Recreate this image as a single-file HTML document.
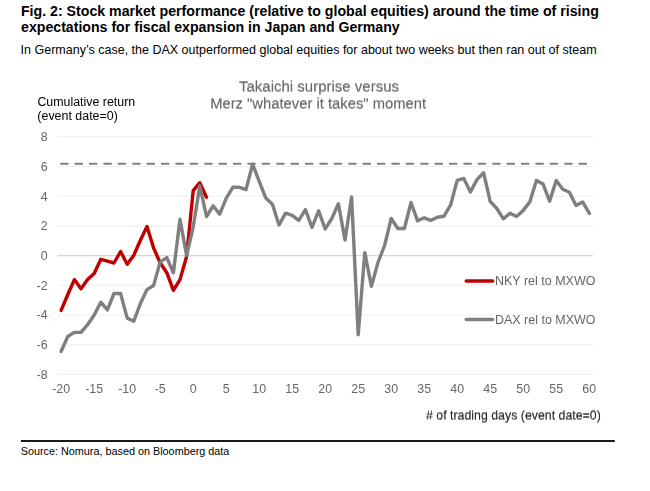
<!DOCTYPE html>
<html><head><meta charset="utf-8"><style>
html,body{margin:0;padding:0;background:#fff;}
body{width:650px;height:491px;overflow:hidden;position:relative;font-family:"Liberation Sans",sans-serif;}
svg{position:absolute;left:0;top:0;}
#chart{will-change:transform;}
text{font-family:"Liberation Sans",sans-serif;}
</style></head><body>
<svg id="outer" width="650" height="491" viewBox="0 0 650 491">
<rect id="bg" width="650" height="491" fill="#fff"/>
<text id="t1" x="20.95" y="16.0" font-size="13.9" font-weight="bold" fill="#000" textLength="577.88" lengthAdjust="spacingAndGlyphs">Fig. 2: Stock market performance (relative to global equities) around the time of rising</text>
<text id="t2" x="21.05" y="32.1" font-size="13.9" font-weight="bold" fill="#000" textLength="378.69" lengthAdjust="spacingAndGlyphs">expectations for fiscal expansion in Japan and Germany</text>
<text id="t3" x="20.64" y="53.7" font-size="12.4" font-weight="normal" fill="#000" textLength="575.95" lengthAdjust="spacingAndGlyphs">In Germany’s case, the DAX outperformed global equities for about two weeks but then ran out of steam</text>
<text id="s1" x="20.68" y="455.2" font-size="11" font-weight="normal" fill="#000" textLength="208.70" lengthAdjust="spacingAndGlyphs">Source: Nomura, based on Bloomberg data</text>

<rect x="20.9" y="440.1" width="593.9" height="1.8" fill="#000"/>
</svg>
<svg id="chart" width="650" height="364" viewBox="0 70 650 364" style="top:70px">
<rect id="bg2" x="0" y="70" width="650" height="364" fill="#fff"/>
<line x1="57.5" x2="593.0" y1="136.8" y2="136.8" stroke="#efefef" stroke-width="1.1"/>
<line x1="57.5" x2="593.0" y1="166.5" y2="166.5" stroke="#efefef" stroke-width="1.1"/>
<line x1="57.5" x2="593.0" y1="196.2" y2="196.2" stroke="#efefef" stroke-width="1.1"/>
<line x1="57.5" x2="593.0" y1="225.9" y2="225.9" stroke="#efefef" stroke-width="1.1"/>
<line x1="57.5" x2="593.0" y1="255.6" y2="255.6" stroke="#d6d6d6" stroke-width="1.1"/>
<line x1="57.5" x2="593.0" y1="285.3" y2="285.3" stroke="#efefef" stroke-width="1.1"/>
<line x1="57.5" x2="593.0" y1="315.0" y2="315.0" stroke="#efefef" stroke-width="1.1"/>
<line x1="57.5" x2="593.0" y1="344.7" y2="344.7" stroke="#efefef" stroke-width="1.1"/>
<line x1="57.5" x2="593.0" y1="374.4" y2="374.4" stroke="#efefef" stroke-width="1.1"/>

<line x1="61.1" x2="589.2" y1="163.75" y2="163.75" stroke="#7f7f7f" stroke-width="2.1" stroke-dasharray="6.6 7.8" stroke-linecap="round"/>
<polyline fill="none" stroke="#c00000" stroke-width="3.4" stroke-linejoin="round" stroke-linecap="round" points="61.1,310.4 67.8,294.5 74.4,279.6 81.0,288.8 87.6,279.6 94.2,273.5 100.8,259.3 107.4,261.2 114.0,263.0 120.6,251.5 127.2,264.2 133.8,255.3 140.4,240.2 147.0,226.6 153.6,248.1 160.2,262.7 166.8,272.7 173.4,290.4 180.0,279.6 186.6,256.5 193.2,190.7 199.8,182.7 206.5,197.3"/>
<polyline fill="none" stroke="#7f7f7f" stroke-width="3.4" stroke-linejoin="round" stroke-linecap="round" points="61.1,351.5 67.8,336.5 74.4,332.4 81.0,332.4 87.6,324.7 94.2,315.0 100.8,302.2 107.4,309.9 114.0,293.5 120.6,293.5 127.2,318.1 133.8,321.2 140.4,303.5 147.0,289.6 153.6,285.5 160.2,261.9 166.8,257.6 173.4,272.7 180.0,219.3 186.6,255.5 193.2,227.0 199.8,185.8 206.5,216.5 213.1,205.8 219.7,214.2 226.3,198.1 232.8,187.3 239.4,187.3 246.0,189.6 252.6,164.2 259.2,181.3 265.8,198.1 272.4,204.2 279.0,225.0 285.6,213.2 292.2,215.3 298.8,220.4 305.4,209.6 312.0,227.5 318.6,210.8 325.2,228.9 331.8,218.5 338.4,203.8 345.0,240.0 351.6,196.9 358.2,334.7 364.8,252.6 371.4,286.4 378.0,262.4 384.6,245.5 391.2,218.5 397.8,228.5 404.4,228.5 411.0,202.5 417.6,220.8 424.2,217.8 430.8,220.4 437.4,217.3 444.0,216.2 450.6,205.0 457.2,180.4 463.8,178.4 470.4,191.9 477.0,179.6 483.6,172.7 490.2,201.4 496.8,208.5 503.4,218.8 510.0,213.2 516.6,216.5 523.2,210.4 529.8,201.9 536.4,180.4 543.0,183.9 549.6,201.2 556.2,180.4 562.8,189.2 569.4,192.2 576.0,205.5 582.6,201.9 589.4,213.5"/>
<g font-size="12.4" fill="#666666">
<text x="47.6" y="141.1" text-anchor="end">8</text>
<text x="47.6" y="170.8" text-anchor="end">6</text>
<text x="47.6" y="200.5" text-anchor="end">4</text>
<text x="47.6" y="230.2" text-anchor="end">2</text>
<text x="47.6" y="259.9" text-anchor="end">0</text>
<text x="47.6" y="289.6" text-anchor="end">-2</text>
<text x="47.6" y="319.3" text-anchor="end">-4</text>
<text x="47.6" y="349.0" text-anchor="end">-6</text>
<text x="47.6" y="378.7" text-anchor="end">-8</text>

<text x="61.2" y="393.2" text-anchor="middle">-20</text>
<text x="94.2" y="393.2" text-anchor="middle">-15</text>
<text x="127.2" y="393.2" text-anchor="middle">-10</text>
<text x="160.2" y="393.2" text-anchor="middle">-5</text>
<text x="193.2" y="393.2" text-anchor="middle">0</text>
<text x="226.2" y="393.2" text-anchor="middle">5</text>
<text x="259.2" y="393.2" text-anchor="middle">10</text>
<text x="292.2" y="393.2" text-anchor="middle">15</text>
<text x="325.2" y="393.2" text-anchor="middle">20</text>
<text x="358.2" y="393.2" text-anchor="middle">25</text>
<text x="391.2" y="393.2" text-anchor="middle">30</text>
<text x="424.2" y="393.2" text-anchor="middle">35</text>
<text x="457.2" y="393.2" text-anchor="middle">40</text>
<text x="490.2" y="393.2" text-anchor="middle">45</text>
<text x="523.2" y="393.2" text-anchor="middle">50</text>
<text x="556.2" y="393.2" text-anchor="middle">55</text>
<text x="589.2" y="393.2" text-anchor="middle">60</text>

</g>
<line x1="466.2" x2="492.7" y1="281" y2="281" stroke="#c00000" stroke-width="3.4" stroke-linecap="round"/>
<line x1="466.2" x2="492.7" y1="319.5" y2="319.5" stroke="#7f7f7f" stroke-width="3.4" stroke-linecap="round"/>
<g opacity="0.6"><text id="c1" x="238.96" y="91.0" font-size="14.0" font-weight="normal" fill="#4d4d4d" textLength="160.03" lengthAdjust="spacingAndGlyphs">Takaichi surprise versus</text>
</g><g opacity="0.6"><text id="c1b" x="238.96" y="92.0" font-size="14.0" font-weight="normal" fill="#4d4d4d" textLength="160.03" lengthAdjust="spacingAndGlyphs">Takaichi surprise versus</text>
</g>
<g opacity="0.6"><text id="c2" x="210.15" y="108.0" font-size="14.0" font-weight="normal" fill="#4d4d4d" textLength="216.01" lengthAdjust="spacingAndGlyphs">Merz &quot;whatever it takes&quot; moment</text>
</g><g opacity="0.6"><text id="c2b" x="210.15" y="109.0" font-size="14.0" font-weight="normal" fill="#4d4d4d" textLength="216.01" lengthAdjust="spacingAndGlyphs">Merz &quot;whatever it takes&quot; moment</text>
</g>
<text id="a1" x="37.41" y="105.5" font-size="12" font-weight="normal" fill="#000" textLength="97.82" lengthAdjust="spacingAndGlyphs">Cumulative return</text>
<text id="a2" x="37.37" y="119.5" font-size="12" font-weight="normal" fill="#000" textLength="80.48" lengthAdjust="spacingAndGlyphs">(event date=0)</text>
<text id="l1" x="494.98" y="285.3" font-size="12.3" font-weight="normal" fill="#666666" textLength="100.50" lengthAdjust="spacingAndGlyphs">NKY rel to MXWO</text>
<text id="l2" x="494.99" y="323.6" font-size="12.3" font-weight="normal" fill="#666666" textLength="100.54" lengthAdjust="spacingAndGlyphs">DAX rel to MXWO</text>
<g opacity="0.6"><text id="x1" x="426.01" y="419.0" font-size="12" font-weight="normal" fill="#000" textLength="174.80" lengthAdjust="spacingAndGlyphs"># of trading days (event date=0)</text>
</g><g opacity="0.6"><text id="x1b" x="426.01" y="420.0" font-size="12" font-weight="normal" fill="#000" textLength="174.80" lengthAdjust="spacingAndGlyphs"># of trading days (event date=0)</text>
</g>

</svg>
</body></html>
